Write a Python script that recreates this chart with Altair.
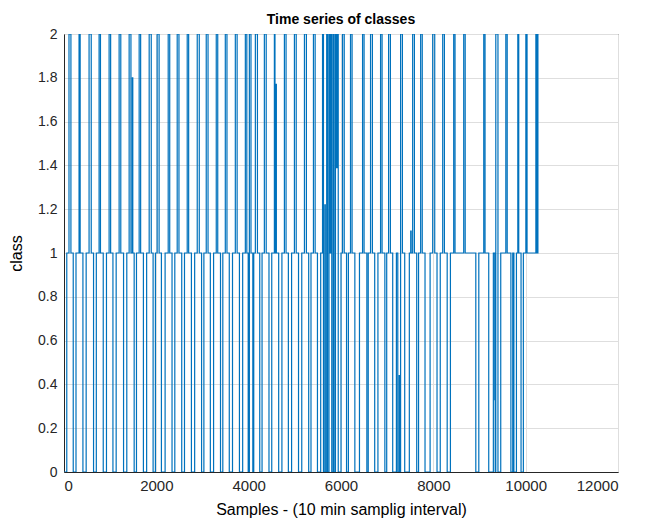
import altair as alt
import pandas as pd

# step change points (sample index) and the class entered at that sample
change_at = [
    0, 60, 108, 150, 200,
    260, 326, 350, 410,
    480, 543, 590, 640,
    700, 760, 790, 850,
    920, 977, 1010, 1060,
    1130, 1194, 1230, 1290,
    1360, 1411, 1450, 1480, 1490, 1520,
    1570, 1628, 1660, 1720,
    1790, 1845, 1890, 1930,
    1980, 2018, 2060, 2110,
    2190, 2257, 2290, 2340,
    2400, 2452, 2490, 2550,
    2610, 2669, 2700, 2760,
    2830, 2886, 2930, 2980,
    3030, 3081, 3120, 3170,
    3240, 3298, 3330, 3390,
    3440, 3494, 3530, 3580,
    3650, 3711, 3750, 3800,
    3870, 3928, 3960, 3990,
    4015, 4050, 4090,
    4110, 4145, 4190, 4240,
    4290, 4340, 4380, 4440,
    4500, 4557, 4570, 4590, 4600, 4650,
    4720, 4774, 4810, 4860,
    4930, 4991, 5030, 5080,
    5150, 5208, 5250, 5300,
    5350, 5403, 5440, 5490,
    5560, 5600, 5620, 5650, 5660, 5690, 5710, 5740, 5760, 5780, 5800,
    5830, 5850, 5880, 5900, 5924, 5940,
    6000, 6033, 6070, 6120,
    6160, 6206, 6240, 6300,
    6400, 6467, 6500, 6560,
    6590, 6640, 6680, 6730,
    6800, 6857, 6890, 6950,
    6990, 7031, 7070, 7120,
    7200, 7230, 7260, 7270, 7291, 7330, 7380,
    7480, 7510, 7520, 7552, 7590, 7640,
    7680, 7725, 7760, 7820,
    7930, 7986, 8030, 8080,
    8150, 8203, 8240, 8300,
    8370, 8441, 8470, 8658, 8690, 8920,
    8985, 9092, 9120, 9200,
    9300, 9330, 9340, 9353, 9400,
    9460, 9570, 9600, 9680,
    9720, 9745, 9800, 9830, 9850, 9900,
    9950, 10004, 10030, 10221, 10240, 10265, 10280,
]
class_level = [
    0, 1, 2, 1, 0,
    1, 2, 1, 0,
    1, 2, 1, 0,
    1, 2, 1, 0,
    1, 2, 1, 0,
    1, 2, 1, 0,
    1, 2, 1, 1.8, 1, 0,
    1, 2, 1, 0,
    1, 2, 1, 0,
    1, 2, 1, 0,
    1, 2, 1, 0,
    1, 2, 1, 0,
    1, 2, 1, 0,
    1, 2, 1, 0,
    1, 2, 1, 0,
    1, 2, 1, 0,
    1, 2, 1, 0,
    1, 2, 1, 0,
    1, 2, 1, 0,
    2, 1, 0,
    1, 2, 1, 0,
    1, 2, 1, 0,
    1, 2, 1, 1.77, 1, 0,
    1, 2, 1, 0,
    1, 2, 1, 0,
    1, 2, 1, 0,
    1, 2, 1, 0,
    1, 2, 0, 1.22, 0, 2, 0, 2, 1, 2, 0,
    2, 0, 2, 1.39, 2, 0,
    1, 2, 1, 0,
    1, 2, 1, 0,
    1, 2, 1, 0,
    1, 2, 1, 0,
    1, 2, 1, 0,
    1, 2, 1, 0,
    1, 0, 0.44, 0, 2, 1, 0,
    1, 1.1, 1, 2, 1, 0,
    1, 2, 1, 0,
    1, 2, 1, 0,
    1, 2, 1, 0,
    1, 2, 1, 2, 1, 0,
    1, 2, 1, 0,
    1, 0.33, 0, 2, 0,
    1, 2, 1, 0,
    1, 0, 1, 2, 1, 0,
    1, 2, 1, 2, 1, 2, 2,
]

x_ticks = [0, 2000, 4000, 6000, 8000, 10000, 12000]
y_ticks = [0, 0.2, 0.4, 0.6, 0.8, 1.0, 1.2, 1.4, 1.6, 1.8, 2.0]

df = pd.DataFrame({"sample": change_at, "cls": class_level})

font = "Liberation Sans"
dark = "#262626"

chart = (
    alt.Chart(df)
    .mark_line(interpolate="step-after", color="#0072BD", strokeWidth=1.2, clip=True)
    .encode(
        x=alt.X(
            "sample:Q",
            scale=alt.Scale(domain=[0, 12000], nice=False, zero=False),
            axis=alt.Axis(
                values=x_ticks,
                format="d",
                title="Samples - (10 min samplig interval)",
                ticks=False,
                labelPadding=6,
                titlePadding=8,
                labelFontSize=15,
                titleFontSize=16,
            ),
        ),
        y=alt.Y(
            "cls:Q",
            scale=alt.Scale(domain=[0, 2], nice=False),
            axis=alt.Axis(
                values=y_ticks,
                format="~g",
                title="class",
                ticks=False,
                labelPadding=7,
                titlePadding=13,
                labelFontSize=14,
                titleFontSize=16,
            ),
        ),
        order="sample:Q",
    )
    .properties(
        width=554,
        height=438,
        title=alt.TitleParams(
            "Time series of classes",
            fontSize=14,
            fontWeight="bold",
            font=font,
            color="#000000",
            offset=0,
        ),
        padding={"left": 56, "top": 26, "right": 12, "bottom": 52},
        autosize="none",
    )
    .configure_axis(
        labelFont=font,
        titleFont=font,
        labelColor=dark,
        titleColor="#000000",
        titleFontWeight="normal",
        domainColor=dark,
        gridColor="#dedede",
        grid=True,
    )
    .configure_view(stroke=dark, strokeWidth=1)
)

chart.save("out.html", embed_options={"renderer": "svg", "actions": False})
